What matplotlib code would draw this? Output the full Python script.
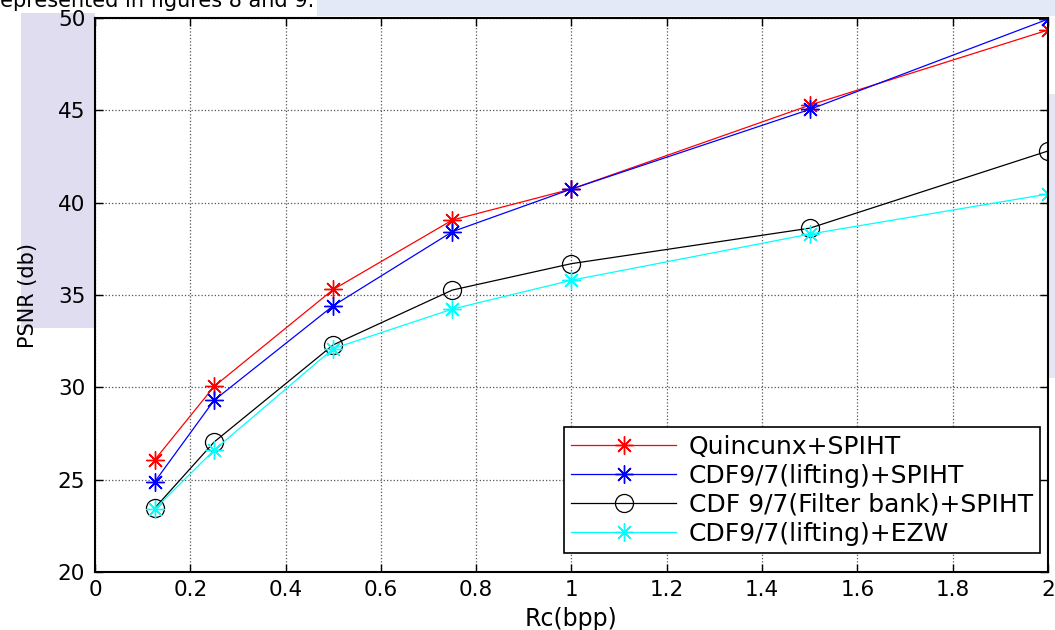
import matplotlib
matplotlib.use("Agg")
import matplotlib.pyplot as plt
from matplotlib.patches import Rectangle

plt.rcParams['font.family'] = ['DejaVu Sans']

rates = [0.125, 0.25, 0.5, 0.75, 1.0, 1.5, 2.0]
quincunx_spiht = [26.06, 30.05, 35.3, 39.06, 40.74, 45.28, 49.35]
cdf_lifting_spiht = [24.87, 29.3, 34.42, 38.43, 40.74, 45.05, 49.94]
cdf_filterbank_spiht = [23.45, 27.04, 32.3, 35.27, 36.7, 38.62, 42.8]
cdf_lifting_ezw = [23.4, 26.6, 32.1, 34.24, 35.8, 38.3, 40.47]

labels = ["Quincunx+SPIHT", "CDF9/7(lifting)+SPIHT",
          "CDF 9/7(Filter bank)+SPIHT", "CDF9/7(lifting)+EZW"]
xticks = [0, 0.2, 0.4, 0.6, 0.8, 1, 1.2, 1.4, 1.6, 1.8, 2]
xtick_labels = ["0", "0.2", "0.4", "0.6", "0.8", "1", "1.2", "1.4", "1.6", "1.8", "2"]
yticks = [20, 25, 30, 35, 40, 45, 50]

fig = plt.figure(figsize=(10.55, 6.3), dpi=100)

# faint watermark-like background
for (x0, y0, w, h, c) in [(0.02, 0.48, 0.07, 0.50, '#e0ddf0'),
                          (0.30, 0.975, 0.70, 0.025, '#e3e9f7'),
                          (0.9935, 0.40, 0.0065, 0.45, '#e6e6f5')]:
    fig.patches.append(Rectangle((x0, y0), w, h, transform=fig.transFigure,
                                 facecolor=c, edgecolor='none', zorder=-1))

fig.text(-0.008, 0.999, "represented in figures 8 and 9.", fontsize=15,
         ha='left', va='center')

ax = fig.add_axes([0.090, 0.092, 0.9034, 0.8794])
ax.set_facecolor('white')

star = (8, 2, 0)
ax.plot(rates, quincunx_spiht, color='red', marker=star, markersize=13,
        markeredgewidth=1.0, linewidth=0.9, label=labels[0])
ax.plot(rates, cdf_lifting_spiht, color='blue', marker=star, markersize=13,
        markeredgewidth=1.0, linewidth=0.9, label=labels[1])
ax.plot(rates, cdf_filterbank_spiht, color='black', marker='o', markersize=13,
        markerfacecolor='none', markeredgewidth=0.9, linewidth=0.9, label=labels[2])
ax.plot(rates, cdf_lifting_ezw, color='cyan', marker=star, markersize=13,
        markeredgewidth=1.0, linewidth=0.9, label=labels[3])

ax.set_xlim(0, 2)
ax.set_ylim(20, 50)
ax.set_xticks(xticks)
ax.set_xticklabels(xtick_labels)
ax.set_yticks(yticks)
ax.tick_params(direction='in', top=True, right=True, labelsize=15.5, length=6, width=1)
ax.tick_params(axis='x', pad=6)
ax.tick_params(axis='y', pad=7)
ax.grid(True, linestyle=':', color='#555555', linewidth=0.9)
for s in ax.spines.values():
    s.set_linewidth(1.5)

ax.set_xlabel("Rc(bpp)", fontsize=17, labelpad=5)
ax.set_ylabel("PSNR (db)", fontsize=15, labelpad=14)

leg = ax.legend(loc='lower right', bbox_to_anchor=(0.992, 0.034), fontsize=18,
                fancybox=False, edgecolor='black', framealpha=1,
                handlelength=4.2, borderpad=0.3, labelspacing=0.2,
                handletextpad=0.5, borderaxespad=0)
leg.get_frame().set_linewidth(1.2)

fig.savefig("out.png", dpi=100, facecolor='white')
